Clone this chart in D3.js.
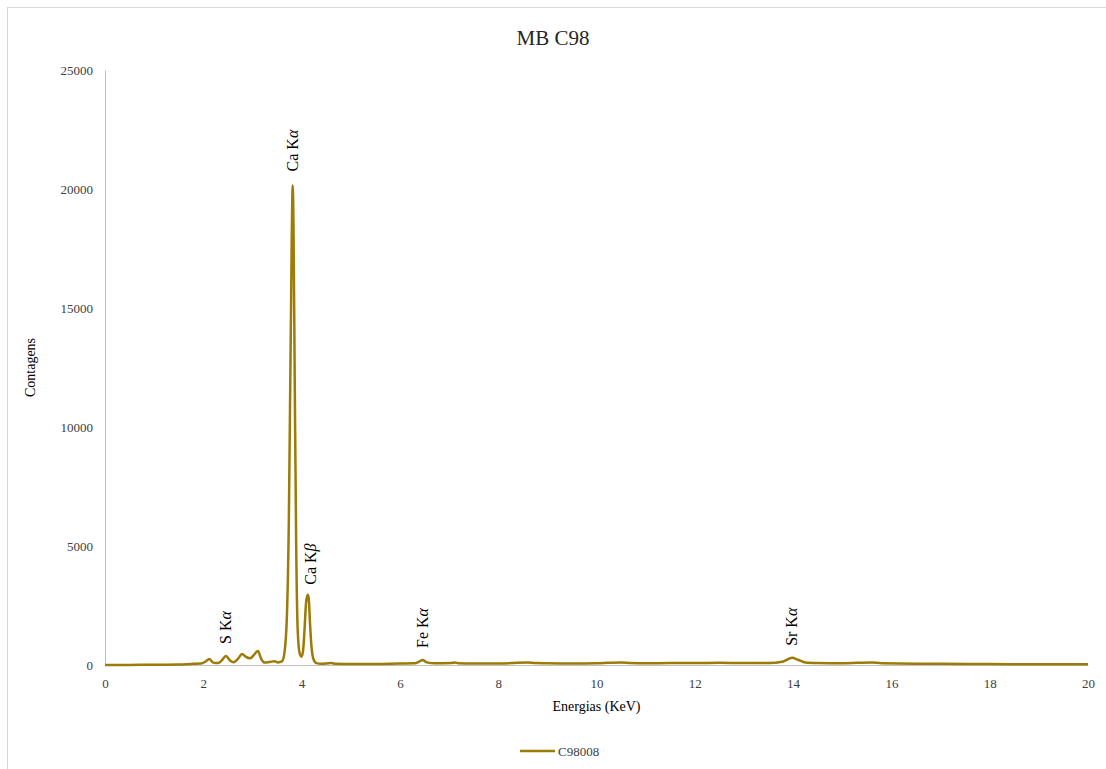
<!DOCTYPE html>
<html><head><meta charset="utf-8">
<script src="https://cdn.jsdelivr.net/npm/d3@7"></script>
<style>html,body{margin:0;padding:0;background:#fff;}svg{display:block;} svg text{font-family:"Liberation Serif","Times New Roman",serif !important;}</style>
</head><body><svg id="c" width="1106" height="769"></svg>
<script>
const energies = [0,0.5,1.0,1.5,1.8,1.95,2.05,2.12,2.2,2.3,2.38,2.46,2.55,2.62,2.7,2.79,2.86,2.95,3.02,3.11,3.18,3.25,3.35,3.45,3.52,3.6,3.65,3.7,3.74,3.77,3.785,3.8,3.82,3.835,3.86,3.89,3.92,3.96,4.0,4.03,4.06,4.09,4.125,4.145,4.17,4.2,4.24,4.3,4.4,4.6,4.7,5.0,5.5,6.0,6.3,6.4,6.46,6.55,6.7,7.05,7.12,7.2,7.5,8.0,8.6,8.75,9.0,9.5,10.0,10.5,10.7,11.0,11.5,12.0,12.5,13.0,13.5,13.8,13.98,14.1,14.25,14.5,15.0,15.6,15.8,16.5,17.0,18.0,19.0,20.0];
const counts = [0,5,10,20,50,60,150,250,100,80,200,380,180,120,250,460,350,280,400,590,250,100,130,160,110,150,500,2000,6000,12000,15000,18000,20150,18500,12000,5000,1500,500,350,600,1500,2600,2950,2800,1800,800,250,80,50,80,50,40,40,60,70,150,210,110,70,80,110,70,60,60,100,80,70,60,70,110,80,70,80,80,90,80,80,150,300,220,100,80,70,110,70,50,50,40,30,30];
const xTicks = [0,2,4,6,8,10,12,14,16,18,20];
const yTicks = [0,5000,10000,15000,20000,25000];
const peakLabels = ["S K", "Ca K", "Ca K", "Fe K", "Sr K"];
const peakGreek = ["α","α","β","α","α"];
const peakE = [2.46,3.82,4.125,6.46,13.98];
const peakC = [380,20150,2950,210,300];
const seriesName = "C98008";
const title = "MB C98";

const FONT = '"Liberation Serif", "Times New Roman", serif';
const svg = d3.select("#c");
const color = "#9C7B06";
const x = d3.scaleLinear().domain([0,20]).range([105,1088]);
const y = d3.scaleLinear().domain([0,25000]).range([665,70]);

svg.append("rect").attr("x",7.5).attr("y",7.5).attr("width",1110).attr("height",780)
  .attr("fill","none").attr("stroke","#d9d9d9").attr("stroke-width",1);

svg.append("text").attr("x",553).attr("y",45).attr("text-anchor","middle")
  .attr("font-family",FONT).attr("font-size",21).attr("fill","#262626").text(title);

const xa = svg.append("g").attr("transform","translate(0,665)")
  .call(d3.axisBottom(x).tickValues(xTicks).tickSize(0).tickPadding(14).tickFormat(d3.format("d")));
const ya = svg.append("g").attr("transform","translate(105,0)")
  .call(d3.axisLeft(y).tickValues(yTicks).tickSize(0).tickPadding(12).tickFormat(d3.format("d")));
[xa,ya].forEach(a=>{
  a.attr("font-family",FONT).attr("font-size",13);
  a.select(".domain").attr("stroke","#bfbfbf").attr("stroke-width",1);
  a.selectAll("text").attr("font-family",FONT).attr("font-size",13).attr("fill","#404040");
});

const data = energies.map((e,i)=>[e,counts[i]]);
svg.append("path").datum(data).attr("fill","none").attr("stroke",color).attr("stroke-width",2.5)
  .attr("stroke-linejoin","round")
  .attr("d", d3.line().x(d=>x(d[0])).y(d=>y(d[1])).curve(d3.curveMonotoneX));

const offs = [12,14,10,12,12];
peakE.forEach((e,i)=>{
  const px = x(e)+(i===2?3:0), py = y(peakC[i]) - offs[i];
  const t = svg.append("text").attr("transform",`translate(${px+5},${py}) rotate(-90)`)
    .attr("font-family",FONT).attr("font-size",16).attr("fill","#000");
  t.append("tspan").text(peakLabels[i]);
  t.append("tspan").attr("font-style","italic").text(peakGreek[i]);
});

svg.append("text").attr("x",596.5).attr("y",711).attr("text-anchor","middle")
  .attr("font-family",FONT).attr("font-size",14).attr("fill","#000").text("Energias (KeV)");
svg.append("text").attr("transform","translate(35,367.5) rotate(-90)").attr("text-anchor","middle")
  .attr("font-family",FONT).attr("font-size",14).attr("fill","#000").text("Contagens");

svg.append("line").attr("x1",520).attr("x2",555).attr("y1",751).attr("y2",751)
  .attr("stroke",color).attr("stroke-width",2.5);
svg.append("text").attr("x",558).attr("y",755.5).attr("font-family",FONT).attr("font-size",13).attr("fill","#404040").text(seriesName);
</script></body></html>
